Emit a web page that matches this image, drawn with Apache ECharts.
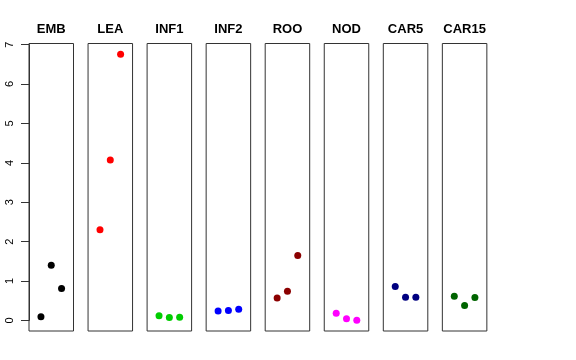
<!DOCTYPE html>
<html><head><meta charset="utf-8">
<script src="https://cdn.jsdelivr.net/npm/echarts@6/dist/echarts.min.js"></script>
<style>html,body{margin:0;padding:0;background:#fff}#c{width:576px;height:360px}</style>
</head><body><div id="c"></div>
<script>
const panels = ["EMB","LEA","INF1","INF2","ROO","NOD","CAR5","CAR15"];
const colors = ["#000000","#FF0000","#00CD00","#0000FF","#8B0000","#FF00FF","#000080","#006400"];
const xPos = [1,2,3];
const EMB = [0.09,1.40,0.81];
const LEA = [2.30,4.07,6.76];
const INF1 = [0.12,0.07,0.08];
const INF2 = [0.24,0.25,0.28];
const ROO = [0.57,0.74,1.65];
const NOD = [0.18,0.04,0.00];
const CAR5 = [0.86,0.59,0.59];
const CAR15 = [0.61,0.38,0.58];
const yTicks = [0,1,2,3,4,5,6,7];
const values = [EMB,LEA,INF1,INF2,ROO,NOD,CAR5,CAR15];

(function(){
const grids=[],xAxes=[],yAxes=[],series=[];
const left0=29, step=59.05, w=44.5, gTop=43.5, h=287.5;
panels.forEach((p,i)=>{
  const l=left0+i*step;
  grids.push({left:l,top:gTop,width:w,height:h,show:true,borderColor:'#333',borderWidth:1,backgroundColor:'transparent'});
  xAxes.push({gridIndex:i,type:'value',min:-0.16,max:4.16,position:'top',
    axisLine:{show:false},axisTick:{show:false},axisLabel:{show:false},splitLine:{show:false},
    name:p,nameLocation:'middle',nameGap:8,
    nameTextStyle:{fontFamily:'Liberation Sans, Arial',fontWeight:'bold',fontSize:13,color:'#000'}});
  yAxes.push({gridIndex:i,type:'value',min:-0.27,max:7.03,show:false});
  series.push({type:'scatter',xAxisIndex:i,yAxisIndex:i,symbolSize:7,itemStyle:{color:colors[i],opacity:1},
    data:values[i].map((v,k)=>[xPos[k],v]),silent:true});
});
const y0px = gTop + h*(7.03-0)/7.30, y7px = gTop + h*(7.03-7)/7.30;
grids.push({left:29,top:y7px,width:1,height:y0px-y7px,show:false});
xAxes.push({gridIndex:8,type:'value',show:false,min:0,max:1});
yAxes.push({gridIndex:8,type:'value',min:yTicks[0],max:yTicks[yTicks.length-1],interval:1,position:'left',
  axisLine:{show:true,lineStyle:{color:'#333',width:1}},
  axisTick:{show:true,length:8,lineStyle:{color:'#333'}},
  splitLine:{show:false},
  axisLabel:{rotate:90,margin:19,fontFamily:'Liberation Sans, Arial',fontSize:11,color:'#000',verticalAlign:'middle',align:'center'}});
const chart=echarts.init(document.getElementById('c'),null,{renderer:'canvas'});
chart.setOption({animation:false,grid:grids,xAxis:xAxes,yAxis:yAxes,series:series});
})();
</script></body></html>
